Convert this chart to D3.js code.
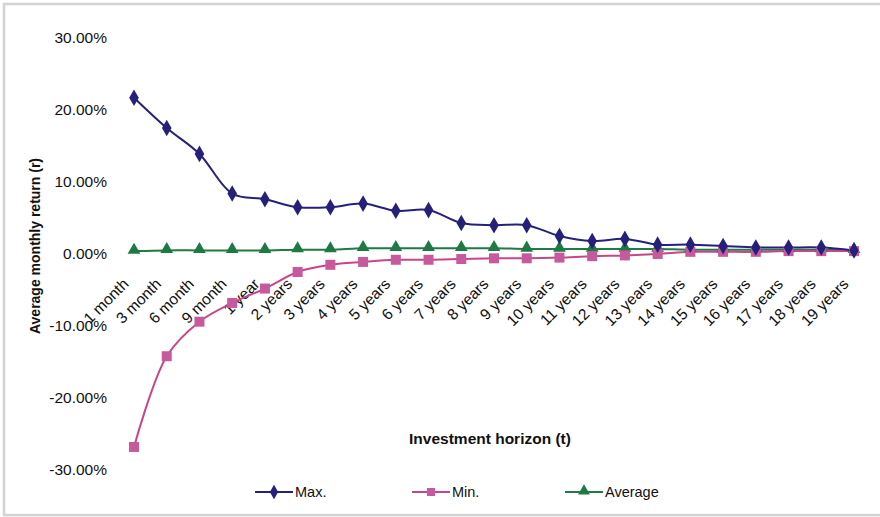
<!DOCTYPE html>
<html>
<head>
<meta charset="utf-8">
<script src="https://d3js.org/d3.v7.min.js"></script>
<style>
  html, body { margin: 0; padding: 0; background: #fff; }
  svg { display: block; }
  text { font-family: "Liberation Sans", Arial, sans-serif; }
</style>
</head>
<body>
<svg id="chart" width="880" height="517"></svg>
<script>
const categories = ["1 month","3 month","6 month","9 month","1 year","2 years","3 years","4 years","5 years","6 years","7 years","8 years","9 years","10 years","11 years","12 years","13 years","14 years","15 years","16 years","17 years","18 years","19 years"];
const maxValues = [21.7,17.5,13.9,8.4,7.6,6.5,6.5,7.0,6.0,6.1,4.3,4.0,4.0,2.5,1.8,2.1,1.3,1.3,1.1,0.9,0.9,0.9,0.5];
const minValues = [-26.8,-14.2,-9.4,-6.8,-4.8,-2.5,-1.5,-1.1,-0.8,-0.8,-0.7,-0.6,-0.6,-0.5,-0.3,-0.2,0.0,0.3,0.3,0.3,0.4,0.4,0.4];
const avgValues = [0.4,0.5,0.5,0.5,0.5,0.6,0.6,0.8,0.8,0.8,0.8,0.8,0.7,0.7,0.7,0.7,0.7,0.6,0.6,0.6,0.6,0.6,0.5];
const yTicks = [30,20,10,0,-10,-20,-30];
const seriesNames = ["Max.","Min.","Average"];
const seriesColors = ["#25217a","#c9458a","#1f7a45"];
const markerColors = ["#25217a","#c65a9c","#1e7a42"];

const svg = d3.select("#chart");

// outer border
svg.append("rect").attr("x",4).attr("y",4).attr("width",890).attr("height",511)
  .attr("fill","#fff").attr("stroke","#d3d3d3").attr("stroke-width",2.5);

const x = d3.scalePoint().domain(categories).range([134, 854]);
const y = d3.scaleLinear().domain([-30, 30]).range([470, 38]);

// Y axis (labels only)
const yAxis = d3.axisLeft(y).tickValues(yTicks).tickSize(0).tickPadding(0)
  .tickFormat(d => d3.format(".2f")(d).replace("\u2212", "-") + "%");
const gy = svg.append("g").attr("transform","translate(107,0)").call(yAxis);
gy.select(".domain").remove();
gy.selectAll("text").attr("font-size", 15.5).attr("fill","#111")
  .attr("font-family","Liberation Sans, Arial, sans-serif");

// X axis labels rotated
const xAxis = d3.axisBottom(x).tickSize(0).tickPadding(0);
const gx = svg.append("g").attr("transform","translate(0," + y(0) + ")").call(xAxis);
gx.select(".domain").remove();
gx.selectAll("text")
  .attr("font-size", 15.5).attr("fill","#111")
  .attr("font-family","Liberation Sans, Arial, sans-serif")
  .attr("text-anchor","end")
  .attr("dy", null).attr("y", null)
  .attr("transform","translate(-5,31) rotate(-45)");

// lines
const allSeries = [maxValues, minValues, avgValues];
const line = d3.line().x((d,i) => x(categories[i])).y(d => y(d))
  .curve(d3.curveCatmullRom.alpha(0.5));

const order = [2,1,0];
order.forEach(si => {
  svg.append("path").datum(allSeries[si])
    .attr("d", line).attr("fill","none")
    .attr("stroke", seriesColors[si]).attr("stroke-width", 2);
});

order.forEach(si => {
  const g = svg.append("g");
  allSeries[si].forEach((v,i) => {
    const cx = x(categories[i]), cy = y(v);
    if (si === 0) {
      g.append("path").attr("d", d3.symbol().type(d3.symbolDiamond).size(80)())
        .attr("transform","translate(" + cx + "," + cy + ")")
        .attr("fill", markerColors[si]);
    } else if (si === 1) {
      g.append("rect").attr("x", cx-5).attr("y", cy-5).attr("width",10).attr("height",10)
        .attr("fill", markerColors[si]);
    } else {
      g.append("path").attr("d", d3.symbol().type(d3.symbolTriangle).size(70)())
        .attr("transform","translate(" + cx + "," + (cy-1) + ")")
        .attr("fill", markerColors[si]);
    }
  });
});

// axis titles
svg.append("text").attr("x", 490).attr("y", 444).attr("text-anchor","middle")
  .attr("font-size", 15.5).attr("font-weight","bold").attr("fill","#111")
  .text("Investment horizon (t)");
svg.append("text").attr("transform","translate(40,246) rotate(-90)")
  .attr("text-anchor","middle").attr("font-size", 14).attr("font-weight","bold")
  .attr("fill","#111").text("Average monthly return (r)");

// legend
const legendX = [255, 412, 565];
const legendY = 492;
seriesNames.forEach((name, si) => {
  const g = svg.append("g");
  g.append("line").attr("x1", legendX[si]).attr("x2", legendX[si]+38)
    .attr("y1", legendY).attr("y2", legendY)
    .attr("stroke", seriesColors[si]).attr("stroke-width", 2);
  const cx = legendX[si] + 19;
  if (si === 0) {
    g.append("path").attr("d", d3.symbol().type(d3.symbolDiamond).size(60)())
      .attr("transform","translate(" + cx + "," + legendY + ")").attr("fill", markerColors[si]);
  } else if (si === 1) {
    g.append("rect").attr("x", cx-4).attr("y", legendY-4).attr("width",8).attr("height",8)
      .attr("fill", markerColors[si]);
  } else {
    g.append("path").attr("d", d3.symbol().type(d3.symbolTriangle).size(60)())
      .attr("transform","translate(" + cx + "," + (legendY-1) + ")").attr("fill", markerColors[si]);
  }
  g.append("text").attr("x", legendX[si] + 40).attr("y", legendY + 5)
    .attr("font-size", 14.5).attr("fill","#111").text(name);
});
</script>
</body>
</html>
